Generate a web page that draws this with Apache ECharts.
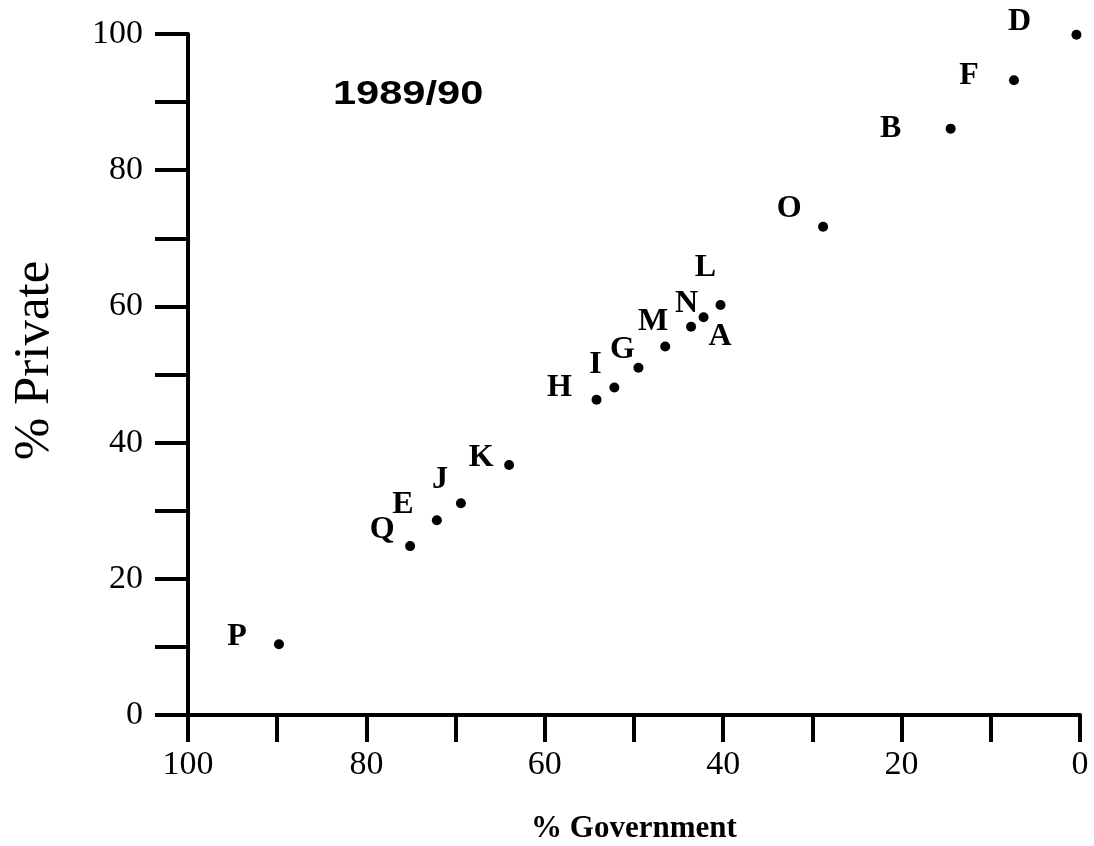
<!DOCTYPE html>
<html>
<head>
    <meta charset="utf-8">
    <script src="https://cdn.jsdelivr.net/npm/echarts@6/dist/echarts.min.js"></script>
    <style>
        html, body {margin: 0; padding: 0; background: #fff;}
    </style>
</head>
<body>
<div id="main" style="width: 1094px;height:846px;"></div>

<script>
    // countries, % government and % private share
    var names = ['A', 'B', 'D', 'E', 'F', 'G', 'H', 'I', 'J', 'K', 'L', 'M', 'N', 'O', 'P', 'Q'];
    var govt = [43.6, 14.5, 0.4, 72.1, 7.4, 49.5, 54.2, 52.2, 69.4, 64.0, 40.3, 46.5, 42.2, 28.8, 89.8, 75.1];
    var priv = [57.0, 86.1, 99.9, 28.6, 93.2, 51.0, 46.3, 48.1, 31.1, 36.7, 60.2, 54.1, 58.4, 71.7, 10.4, 24.8];
    var yearLabel = '1989/90';

    // where each letter sits relative to its dot (pixels)
    var labelOffset = {
        A: [29, 10], B: [-60, 0], D: [-57, -13], E: [-34, -15], F: [-45, -5],
        G: [-16, -18], H: [-37, -12], I: [-19, -23], J: [-21, -23], K: [-28, -7],
        L: [-15, -37], M: [-12, -25], N: [-17, -14], O: [-34, -18], P: [-42, -7],
        Q: [-28, -16]
    };

    var serif = '"Liberation Serif", "Times New Roman", serif';

    var points = [];
    for (var i = 0; i < names.length; i++) {
        points.push({
            name: names[i],
            value: [govt[i], priv[i]],
            label: {offset: labelOffset[names[i]]}
        });
    }

    var myChart = echarts.init(document.getElementById('main'));

    var axisCommon = {
        type: 'value',
        min: 0,
        max: 100,
        interval: 10,
        splitLine: {show: false},
        axisLine: {onZero: false, lineStyle: {color: '#000', width: 4}},
        axisTick: {lineStyle: {color: '#000', width: 4}},
        nameLocation: 'middle',
        nameTextStyle: {color: '#000', fontFamily: serif}
    };

    var option = {
        animation: false,
        backgroundColor: '#fff',
        grid: {left: 188, right: 14, top: 34, bottom: 131, outerBoundsMode: 'none'},
        graphic: [{
            type: 'text',
            left: 333,
            top: 78,
            scaleX: 1.26,
            style: {
                text: yearLabel,
                font: 'bold 33px "Liberation Sans", Arial, sans-serif',
                fill: '#000'
            }
        }],
        xAxis: echarts.util.merge({
            inverse: true,
            name: '% Government',
            nameGap: 98,
            nameTextStyle: {fontSize: 31, fontWeight: 'bold'},
            axisTick: {length: 27},
            axisLabel: {
                margin: 33,
                color: '#000',
                fontSize: 34,
                fontFamily: serif,
                formatter: function (v) { return v % 20 === 0 ? v : ''; }
            }
        }, axisCommon, false),
        yAxis: echarts.util.merge({
            name: '% Private',
            nameGap: 128,
            nameTextStyle: {fontSize: 51, padding: [0, 0, 0, 28]},
            axisTick: {length: 33},
            axisLabel: {
                margin: 45,
                color: '#000',
                fontSize: 34,
                fontFamily: serif,
                formatter: function (v) { return v % 20 === 0 ? v : ''; }
            }
        }, axisCommon, false),
        series: [{
            type: 'scatter',
            symbol: 'circle',
            symbolSize: 10,
            itemStyle: {color: '#000', opacity: 1},
            label: {
                show: true,
                position: 'inside',
                formatter: '{b}',
                color: '#000',
                fontSize: 32,
                fontWeight: 'bold',
                fontFamily: serif
            },
            data: points
        }]
    };

    myChart.setOption(option);
</script>
</body>
</html>
